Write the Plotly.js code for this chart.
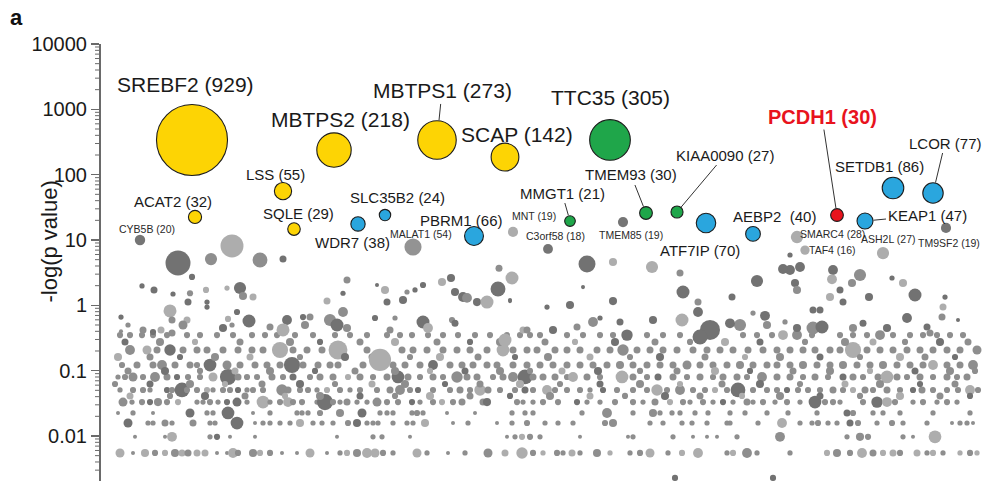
<!DOCTYPE html>
<html>
<head>
<meta charset="utf-8">
<script src="https://cdn.plot.ly/plotly-3.0.1.min.js"></script>
<style>html,body{margin:0;padding:0;background:#fff;}#chart{width:984px;height:481px;}</style>
</head>
<body>
<div id="chart"></div>
<script>
// ---------- labelled genes ----------
const genes = ['SREBF2','MBTPS2','MBTPS1','SCAP','TTC35','LSS','ACAT2','SQLE','SLC35B2','WDR7','PBRM1','MMGT1','TMEM93','KIAA0090','ATF7IP','AEBP2','PCDH1','SETDB1','LCOR','KEAP1','CYB5B','MALAT1','MNT','C3orf58','TMEM85','SMARC4','TAF4','ASH2L','TM9SF2'];
const geneRank = [192,334,437,505,610,283,195,294,385,358,474,570,646,677,706,753,837,893,933,865,140,413,513,548,623,797,805,883,946];
const geneP = [340,238,340,186,340,56,22.5,14.7,24.1,17.6,11.5,19.5,25.9,26.8,18.2,12.4,24.1,62.5,52.4,19.5,10,7.8,13.3,7.3,18.8,11.1,7.0,6.3,15.3];
const geneN = [929,218,273,142,305,55,32,29,24,38,66,21,30,27,70,40,30,86,77,47,20,54,19,18,19,28,16,27,19];
const geneGroup = ['chol','chol','chol','chol','green','chol','chol','chol','blue','blue','blue','green','green','green','blue','blue','red','blue','blue','blue','grey0','grey1','grey2','grey0','grey0','grey2','grey2','grey2','grey0'];

// ---------- background genes: [rank, count, shade group] per p-value band ----------
const band0055 = [[120,15,2],[133,3,1],[145,12,2],[155,7,1],[165,7,2],[175,12,1],[182,9,2],[188,9,1],[197,9,2],[205,9,2],[217,3,1],[227,3,1],[233,18,2],[238,7,1],[253,12,1],[260,7,2],[270,7,1],[282,3,1],[297,3,1],[310,15,2],[327,3,1],[340,5,1],[347,7,2],[357,12,1],[367,18,2],[375,15,2],[383,7,1],[393,5,1],[417,15,2],[427,5,1],[448,3,1],[465,5,1],[488,15,1],[505,9,2],[522,24,2],[533,7,1],[543,5,2],[557,7,1],[563,5,1],[572,9,2],[580,5,1],[597,12,1],[610,5,2],[630,5,1],[640,7,1],[650,15,2],[668,5,1],[682,7,2],[698,18,2],[727,5,1],[733,7,2],[747,18,1],[757,5,1],[790,5,1],[827,7,2],[837,12,1],[850,7,1],[862,18,2],[873,9,1],[883,7,2],[893,9,2],[900,7,1],[917,9,2],[927,5,1],[933,7,2],[943,5,1],[960,5,2],[970,7,1],[977,5,2]];
const band0097 = [[135,3,1],[165,3,1],[172,18,2],[210,5,1],[217,7,0],[230,3,1],[255,3,1],[337,3,1],[373,5,1],[382,5,1],[410,3,1],[507,3,1],[515,5,1],[522,7,2],[530,7,1],[540,5,1],[580,3,1],[628,3,1],[633,5,1],[673,5,1],[693,3,1],[707,3,1],[717,3,1],[737,5,1],[780,18,1],[847,5,1],[860,12,1],[868,7,1],[903,5,1],[913,3,1],[935,30,2]];
const band0158 = [[128,15,0],[148,5,1],[153,5,1],[165,9,1],[172,5,1],[193,9,1],[210,5,1],[215,5,1],[237,30,0],[255,3,1],[263,5,1],[270,5,1],[280,5,1],[290,5,1],[300,12,2],[313,5,1],[322,5,1],[333,5,1],[348,7,1],[357,12,0],[367,5,1],[373,5,1],[378,5,1],[393,5,1],[407,5,1],[413,5,1],[425,12,2],[453,3,1],[468,5,1],[497,3,1],[512,5,1],[527,7,1],[545,5,1],[558,5,1],[573,5,1],[605,7,1],[613,12,1],[650,5,1],[663,5,1],[682,5,1],[692,5,1],[707,5,1],[727,5,1],[730,5,1],[758,5,1],[782,18,2],[800,5,1],[812,5,1],[818,7,1],[828,5,1],[837,5,1],[850,9,0],[858,7,1],[877,5,1],[892,7,1],[903,5,1],[927,5,1],[952,3,1],[960,5,1],[967,5,1],[973,3,1]];
const band0225 = [[118,3,1],[133,5,1],[153,3,1],[190,15,0],[207,5,1],[213,5,1],[228,30,0],[253,3,1],[270,5,1],[297,5,1],[302,5,1],[308,5,1],[320,7,1],[340,12,1],[362,15,0],[380,5,1],[387,5,1],[393,5,1],[412,5,1],[417,7,1],[423,5,1],[447,3,1],[475,3,1],[512,5,1],[525,5,1],[533,5,1],[582,5,1],[607,18,1],[633,5,1],[653,12,1],[660,5,1],[672,5,1],[680,5,1],[695,5,1],[708,5,1],[730,5,1],[745,5,1],[767,5,1],[788,5,1],[817,5,1],[847,9,0],[853,7,1],[873,5,1],[883,5,1],[900,5,1],[933,5,1],[970,5,1]];
const band033 = [[123,15,1],[132,5,1],[142,7,1],[150,7,0],[158,12,1],[167,7,1],[178,7,2],[197,5,1],[203,5,1],[210,7,1],[218,5,1],[227,7,0],[237,15,0],[247,5,1],[263,30,2],[270,5,1],[280,7,1],[288,18,2],[293,7,1],[302,7,1],[317,5,1],[325,48,0],[333,7,1],[340,5,1],[347,9,1],[357,5,1],[367,5,1],[377,15,1],[387,7,1],[398,7,1],[412,7,0],[420,5,1],[433,7,1],[442,7,2],[453,7,1],[462,9,1],[483,9,1],[487,12,0],[517,7,1],[523,5,1],[533,5,1],[543,7,1],[558,7,1],[577,7,0],[587,5,1],[600,5,1],[615,7,1],[633,7,1],[643,5,1],[655,9,1],[670,7,2],[683,7,1],[690,5,1],[703,7,1],[713,5,1],[723,7,0],[733,5,1],[747,9,1],[753,5,1],[763,7,1],[775,5,1],[787,7,1],[800,5,1],[815,30,0],[825,7,1],[833,7,1],[840,5,1],[863,7,1],[877,24,0],[887,18,2],[895,7,1],[913,5,1],[923,7,1],[937,5,1],[947,7,1],[957,5,1]];
const band0506 = [[120,5,1],[133,7,1],[143,7,1],[150,5,1],[167,7,0],[172,7,1],[182,40,0],[187,7,1],[197,7,1],[207,7,2],[213,5,1],[223,7,1],[230,7,1],[238,7,0],[247,5,1],[253,7,1],[263,7,1],[282,24,1],[288,9,1],[300,7,1],[308,7,1],[317,5,1],[327,7,2],[340,7,1],[350,5,1],[360,7,1],[377,7,1],[390,9,1],[400,18,1],[410,7,1],[418,7,0],[433,7,1],[450,7,1],[460,9,1],[470,7,1],[480,24,2],[488,9,1],[500,7,1],[515,7,1],[525,9,0],[533,7,1],[547,18,2],[555,7,1],[567,7,1],[580,7,1],[590,5,1],[603,7,0],[617,7,1],[633,7,1],[647,7,1],[657,24,2],[667,7,1],[680,18,1],[693,7,1],[705,7,1],[715,7,2],[727,7,1],[738,40,0],[753,7,1],[767,7,1],[777,7,1],[787,7,0],[798,7,1],[808,7,1],[820,7,1],[833,9,1],[843,7,1],[853,7,2],[865,9,1],[873,7,1],[887,9,1],[900,7,1],[913,7,0],[922,9,1],[933,7,1],[947,7,1],[958,7,1],[970,18,2],[978,7,1]];
const band080 = [[118,5,1],[125,7,1],[133,15,1],[143,7,1],[155,18,1],[167,9,1],[177,7,0],[188,7,1],[200,7,1],[213,15,2],[228,48,0],[238,9,1],[247,7,1],[257,7,1],[272,9,1],[283,7,1],[293,9,0],[310,7,1],[320,9,1],[333,9,1],[348,7,2],[360,9,1],[373,7,1],[387,9,1],[398,30,0],[408,9,1],[420,7,1],[433,9,1],[443,7,1],[457,24,1],[467,9,1],[477,9,1],[493,7,1],[503,9,1],[513,18,1],[525,40,0],[533,9,1],[543,9,1],[555,9,1],[567,7,1],[573,18,2],[587,9,1],[600,7,1],[622,30,2],[633,9,1],[647,7,1],[658,9,0],[673,9,1],[687,7,1],[700,9,1],[713,7,1],[723,9,1],[737,9,1],[747,7,1],[762,18,1],[777,9,1],[790,9,1],[803,7,1],[815,9,1],[828,7,1],[843,9,0],[853,9,1],[863,7,1],[878,9,1],[887,30,2],[897,9,1],[907,7,1],[920,9,1],[933,7,1],[947,9,1],[957,7,1],[967,9,1]];
const band122 = [[122,7,1],[137,9,1],[153,9,1],[162,18,1],[175,9,1],[190,9,1],[197,7,1],[210,30,0],[227,15,1],[240,9,1],[255,9,1],[267,9,1],[280,9,1],[292,48,0],[303,9,1],[318,9,1],[330,9,1],[338,9,1],[363,9,1],[393,9,1],[405,9,1],[420,9,1],[433,18,0],[450,9,1],[462,9,1],[473,9,1],[487,9,1],[497,9,1],[513,9,1],[527,9,1],[540,9,1],[553,9,1],[567,9,1],[580,9,1],[593,9,1],[607,9,1],[620,12,1],[633,9,1],[647,9,1],[660,9,1],[673,9,1],[687,15,1],[700,9,1],[713,9,1],[727,9,1],[740,12,1],[753,9,1],[767,9,1],[777,9,1],[790,9,1],[803,12,1],[817,9,1],[830,9,1],[843,12,1],[857,9,1],[870,9,1],[883,12,1],[897,9,1],[910,9,1],[923,9,1],[933,18,2],[947,9,1],[960,9,1],[973,18,1]];
const band207 = [[130,18,1],[147,15,2],[157,9,1],[170,24,0],[183,9,1],[197,9,1],[207,9,1],[223,9,1],[238,9,1],[252,9,1],[263,9,1],[280,48,2],[293,9,1],[307,9,1],[322,9,1],[333,9,1],[338,66,2],[367,9,1],[402,9,1],[413,9,1],[427,9,1],[443,9,1],[457,9,1],[470,9,1],[487,9,1],[503,30,2],[513,9,1],[527,9,1],[537,9,1],[555,9,1],[567,9,1],[580,9,1],[597,9,1],[610,9,1],[623,24,1],[637,9,1],[650,9,1],[663,9,1],[677,9,1],[693,9,1],[707,9,1],[720,9,1],[733,9,1],[748,9,1],[763,9,1],[777,9,1],[790,9,1],[803,9,1],[815,9,1],[830,9,1],[840,9,1],[853,48,2],[867,9,1],[880,9,1],[893,9,1],[907,9,1],[920,9,1],[933,9,1],[947,9,1],[960,9,1],[977,15,1]];
const band35 = [[120,7,1],[130,7,1],[142,7,1],[153,7,1],[167,7,1],[187,7,1],[200,7,1],[217,7,1],[233,7,1],[252,7,1],[265,7,1],[277,7,1],[295,7,1],[313,7,1],[335,7,1],[350,7,1],[367,7,1],[387,7,1],[400,7,1],[412,7,1],[428,7,1],[443,7,1],[458,7,1],[475,7,1],[490,7,1],[507,7,1],[520,7,1],[530,7,1],[540,7,1],[567,7,1],[583,7,1],[600,7,1],[613,7,1],[627,24,0],[647,7,1],[663,7,1],[680,7,1],[743,7,1],[757,7,1],[772,7,1],[783,18,2],[797,18,1],[812,7,1],[840,7,1],[853,7,1],[867,7,1],[880,18,1],[893,7,1],[910,7,1],[923,7,1],[937,7,1],[950,7,1],[963,7,1]];
const band275 = [[125,9,0],[160,12,1],[195,7,2],[240,9,1],[290,12,1],[320,7,0],[360,9,1],[395,12,2],[437,9,1],[470,7,0],[500,12,1],[545,9,1],[575,7,2],[615,12,0],[655,9,1],[690,7,1],[725,12,2],[760,9,0],[805,7,1],[845,12,1],[873,9,2],[905,7,1],[940,12,0],[968,9,1]];
const band162 = [[118,12,2],[150,9,1],[180,7,0],[215,12,1],[250,9,2],[300,7,1],[345,12,0],[372,9,1],[410,7,1],[440,12,2],[478,9,1],[515,7,0],[548,12,1],[590,9,2],[630,7,1],[660,12,0],[705,9,1],[745,7,2],[780,12,1],[820,9,0],[860,7,1],[900,12,2],[925,9,1],[955,7,0]];
const band099 = [[128,9,1],[165,12,0],[200,7,1],[235,9,2],[270,12,1],[315,7,0],[355,9,1],[395,12,1],[430,7,2],[465,9,0],[500,12,1],[530,7,1],[562,9,2],[598,12,0],[640,7,1],[677,9,1],[715,12,2],[750,7,0],[793,9,1],[830,12,1],[870,7,2],[915,9,0],[950,12,1],[975,7,1]];
const band0625 = [[115,7,1],[150,9,0],[190,12,1],[225,7,2],[262,9,1],[300,12,0],[335,7,1],[372,9,2],[405,12,1],[445,7,0],[480,9,1],[520,12,2],[560,7,1],[600,9,0],[640,12,1],[680,7,2],[722,9,1],[760,12,0],[800,7,1],[845,9,2],[880,12,1],[920,7,0],[955,9,1]];
const band041 = [[130,9,2],[170,7,1],[205,12,0],[245,9,1],[285,7,2],[320,12,1],[360,9,0],[395,7,1],[430,12,2],[470,9,1],[510,7,0],[550,12,1],[590,9,2],[625,7,1],[665,12,0],[700,9,1],[742,7,2],[780,12,1],[820,9,0],[860,7,1],[900,12,2],[940,9,1],[970,7,0]];
const bandP = [0.0055,0.0097,0.0158,0.0225,0.033,0.0506,0.080,0.122,0.207,0.35,0.275,0.162,0.099,0.0625,0.041];
const bandPts = [band0055,band0097,band0158,band0225,band033,band0506,band080,band122,band207,band35,band275,band162,band099,band0625,band041];

// scattered background genes: [rank, -log p, count, shade group]
const scattered = [[178,4.45,115,0],[211,5.1,27,1],[232,8.1,97,2],[260,4.94,41,1],[283,5.1,9,0],[192,2.72,7,0],[142,1.98,5,0],[154,1.72,9,0],[173,1.49,5,0],[190,1.53,7,1],[188,1.12,9,0],[206,1.72,7,2],[207,1.12,5,0],[207,0.94,5,0],[170,0.82,31,2],[172,0.596,9,1],[227,1.84,5,2],[240,1.84,27,0],[243,1.39,12,1],[253,1.34,9,2],[237,0.79,7,0],[249,0.575,31,0],[228,0.62,7,2],[187,0.596,9,2],[183,0.5,15,1],[121,0.66,5,0],[128,0.5,5,1],[121,0.40,3,1],[143,0.42,9,1],[153,0.39,7,0],[161,0.42,9,2],[172,0.377,9,1],[223,0.45,12,0],[232,0.5,5,1],[270,0.466,9,1],[287,0.596,18,0],[283,0.42,31,2],[305,0.5,12,1],[310,0.66,9,1],[303,0.66,7,0],[330,0.596,27,1],[337,0.5,31,0],[347,2.45,9,1],[343,1.53,5,0],[343,0.79,18,1],[347,0.45,12,1],[327,1.16,9,2],[375,0.64,7,0],[377,2.05,3,0],[385,1.72,12,2],[387,1.12,9,0],[395,0.64,5,1],[390,0.42,9,1],[403,1.21,12,0],[407,1.6,5,1],[415,1.72,5,0],[423,2.05,7,0],[423,0.556,31,0],[428,0.45,18,2],[442,2.28,12,2],[451,2.62,12,0],[455,1.6,12,0],[463,1.34,18,0],[467,1.30,18,1],[477,1.12,12,0],[487,1.12,31,2],[498,1.78,41,0],[512,2.62,31,2],[499,3.7,9,1],[510,1.21,3,0],[452,0.596,7,1],[455,0.53,9,0],[523,0.42,9,2],[547,0.94,5,0],[587,4.29,53,0],[613,4.6,12,2],[652,3.86,27,2],[680,3.13,9,1],[583,1.9,3,0],[613,1.16,12,0],[570,1.01,12,0],[510,1.16,3,0],[683,1.6,31,0],[732,1.34,9,0],[757,2.36,27,0],[698,1.12,9,1],[698,0.79,18,0],[682,0.596,31,2],[753,0.76,5,1],[765,0.69,18,0],[767,0.5,12,1],[790,3.47,18,0],[783,3.6,18,0],[800,3.86,18,0],[795,2.2,12,0],[797,1.72,12,1],[833,3.47,18,0],[832,2.5,18,2],[840,1.72,9,0],[830,1.34,12,2],[843,1.12,9,0],[813,0.85,9,0],[820,0.85,9,0],[860,2.91,27,1],[852,2.2,12,1],[869,1.34,12,0],[892,2.62,5,0],[903,2.2,12,2],[915,1.44,31,0],[907,0.64,18,0],[945,1.34,5,0],[943,0.94,9,2],[942,0.66,9,1],[958,0.596,3,0],[790,5.89,5,0],[740,0.5,27,1],[730,0.53,18,0],[710,0.42,74,0],[700,0.327,41,0],[653,0.596,12,0],[620,0.556,9,0],[593,0.556,18,1],[600,0.64,5,0],[577,0.466,9,1],[553,0.42,12,0],[527,0.42,9,1],[505,0.294,31,2],[813,0.45,31,1],[822,0.466,31,0],[797,0.45,12,0],[785,0.556,5,1],[863,0.53,9,0],[853,0.45,12,1],[887,0.45,12,0],[927,0.466,9,0],[930,0.377,9,1],[380,0.146,90,2],[675,0.00228,7,0],[773,0.00228,7,0]];

// y-axis tick labels
const tickValues = [0.01, 0.1, 1, 10, 100, 1000, 10000];
const tickLabels = ['0.01', '0.1', '1', '10', '100', '1000', '10000'];

// ---------- styles ----------
const FONT = 'Liberation Sans, Arial, Helvetica, sans-serif';
const groupColor = {chol:'#fdd404', green:'#1fa64a', blue:'#2aa6de', red:'#e8131d', grey0:'#757575', grey1:'#939393', grey2:'#acacac'};
const shadeColor = ['#727272','#8e8e8e','#adadad'];
const isGrey = g => g.indexOf('grey') === 0;
const diam = n => 2.33 * Math.sqrt(n);
// label placement: [dx, dy (px from marker centre), size class, leader line]
const labelPlace = {
  SREBF2:[-7,-55,'L',0], MBTPS2:[6,-31,'L',0], MBTPS1:[5,-49,'L',1], SCAP:[12,-23,'L',0], TTC35:[0,-42,'L',0],
  LSS:[-8,-17,'M',0], ACAT2:[-22,-15,'M',0], SQLE:[4,-16,'M',0], SLC35B2:[12,-18,'M',0], WDR7:[-6,19,'M',0],
  PBRM1:[-13,-16,'M',0], MMGT1:[-8,-28,'M',1], TMEM93:[-15,-38,'M',1], KIAA0090:[48,-57,'M',1], ATF7IP:[-6,27,'M',0],
  AEBP2:[21,-17,'M',0], PCDH1:[-15,-98,'R',1], SETDB1:[-14,-22,'M',0], LCOR:[12,-50,'M',1], KEAP1:[62,-6,'M',1],
  CYB5B:[7,-11,'S',0], MALAT1:[8,-13,'S',0], MNT:[21,-16,'S',0], C3orf58:[7,-13,'S',0], TMEM85:[8,13,'S',0],
  SMARC4:[35,-3,'S',0], TAF4:[27,0,'S',0], ASH2L:[5,-14,'S',0], TM9SF2:[3,15,'S',0]
};
const sizeClass = {L:{size:21,color:'#1a1a1a'}, M:{size:15,color:'#1a1a1a'}, S:{size:10.5,color:'#2a2a2a'}, R:{size:20,color:'#e8131d', weight:'bold'}};

// ---------- build background ----------
const bgX=[], bgY=[], bgS=[], bgC=[];
bandPts.forEach((pts,i)=>{ pts.forEach(p=>{ bgX.push(p[0]); bgY.push(bandP[i]); bgS.push(diam(p[1])); bgC.push(shadeColor[p[2]]); }); });
scattered.forEach(p=>{ bgX.push(p[0]); bgY.push(p[1]); bgS.push(diam(p[2])); bgC.push(shadeColor[p[3]]); });

const traces = [
  {type:'scatter', mode:'markers', x:bgX, y:bgY, hoverinfo:'skip', cliponaxis:false,
   marker:{size:bgS, color:bgC, line:{width:0}, opacity:1}},
];
const greyIdx = genes.map((g,i)=>i).filter(i=>isGrey(geneGroup[i]));
const colIdx = genes.map((g,i)=>i).filter(i=>!isGrey(geneGroup[i]));
traces.push({type:'scatter', mode:'markers', x:greyIdx.map(i=>geneRank[i]), y:greyIdx.map(i=>geneP[i]), cliponaxis:false,
  marker:{size:greyIdx.map(i=>diam(geneN[i])), color:greyIdx.map(i=>groupColor[geneGroup[i]]), line:{width:0}, opacity:1}});
traces.push({type:'scatter', mode:'markers', x:colIdx.map(i=>geneRank[i]), y:colIdx.map(i=>geneP[i]), cliponaxis:false,
  marker:{size:colIdx.map(i=>diam(geneN[i])), color:colIdx.map(i=>groupColor[geneGroup[i]]), line:{width:1.1, color:'#1c1c1c'}, opacity:1}});

// ---------- layout geometry ----------
const LEFT = 80;              // plot area starts here (px)
const AXIS_PX = 100;          // y-axis line position (px)
const plotW = 984 - LEFT;
const axisPos = (AXIS_PX - LEFT) / plotW;
const yRange = [-2.689, 4];

// ---------- annotations ----------
const annotations = genes.map((g,i)=>{
  const pl = labelPlace[g];
  const sc = sizeClass[pl[2]];
  const txt = (g==='AEBP2' ? 'AEBP2\u00a0 ' : g + ' ') + '(' + geneN[i] + ')';
  const font = {family: FONT, size: sc.size, color: sc.color};
  if (sc.weight) font.weight = sc.weight;
  const a = {x: geneRank[i], y: Math.log10(geneP[i]), xref:'x', yref:'y', text: txt, font: font};
  if (pl[3]) {
    Object.assign(a, {showarrow:true, arrowhead:0, arrowwidth:1, arrowcolor:'#333', ax:pl[0], ay:pl[1], standoff: diam(geneN[i])/2 + 0.5});
  } else {
    Object.assign(a, {showarrow:false, xshift:pl[0], yshift:-pl[1], xanchor:'center', yanchor:'middle'});
  }
  return a;
});
annotations.push({xref:'paper', yref:'paper', x:(16-LEFT)/plotW, y:1.06, text:'a', showarrow:false, xanchor:'center', yanchor:'middle', font:{family:FONT, size:22, color:'#111', weight:'bold'}});
annotations.push({xref:'paper', yref:'paper', x:(50-LEFT)/plotW, y:0.548, text:'-log(p value)', textangle:-90, showarrow:false, xanchor:'center', yanchor:'middle', font:{family:FONT, size:22, color:'#1a1a1a'}});

// minor ticks (2..9 within each decade) as short lines just left of the axis
const shapes = [];
for (let e = -3; e <= 3; e++) for (let m = 2; m <= 9; m++) {
  const v = m * Math.pow(10, e);
  const lv = Math.log10(v);
  if (lv < yRange[0] || lv > yRange[1]) continue;
  shapes.push({type:'line', xref:'x', yref:'y', x0:AXIS_PX-5, x1:AXIS_PX, y0:v, y1:v, layer:'above',
    line:{color:'#6a6a6a', width:1}});
}

const layout = {
  width:984, height:481,
  margin:{l:LEFT, r:0, t:44, b:0, pad:0},
  paper_bgcolor:'#ffffff', plot_bgcolor:'#ffffff',
  showlegend:false,
  xaxis:{range:[LEFT,984], visible:false, fixedrange:true},
  yaxis:{type:'log', range:yRange, anchor:'free', position:axisPos, tickmode:'array', tickvals:tickValues, ticktext:tickLabels,
    showgrid:false, zeroline:false, showline:true, linecolor:'#6a6a6a', linewidth:2,
    ticks:'outside', ticklen:8, tickwidth:1.5, tickcolor:'#6a6a6a',
    tickfont:{family:FONT, size:20, color:'#1a1a1a'}, fixedrange:true},
  shapes: shapes,
  annotations: annotations
};
Plotly.newPlot('chart', traces, layout, {displayModeBar:false, staticPlot:true});
</script>
</body>
</html>
